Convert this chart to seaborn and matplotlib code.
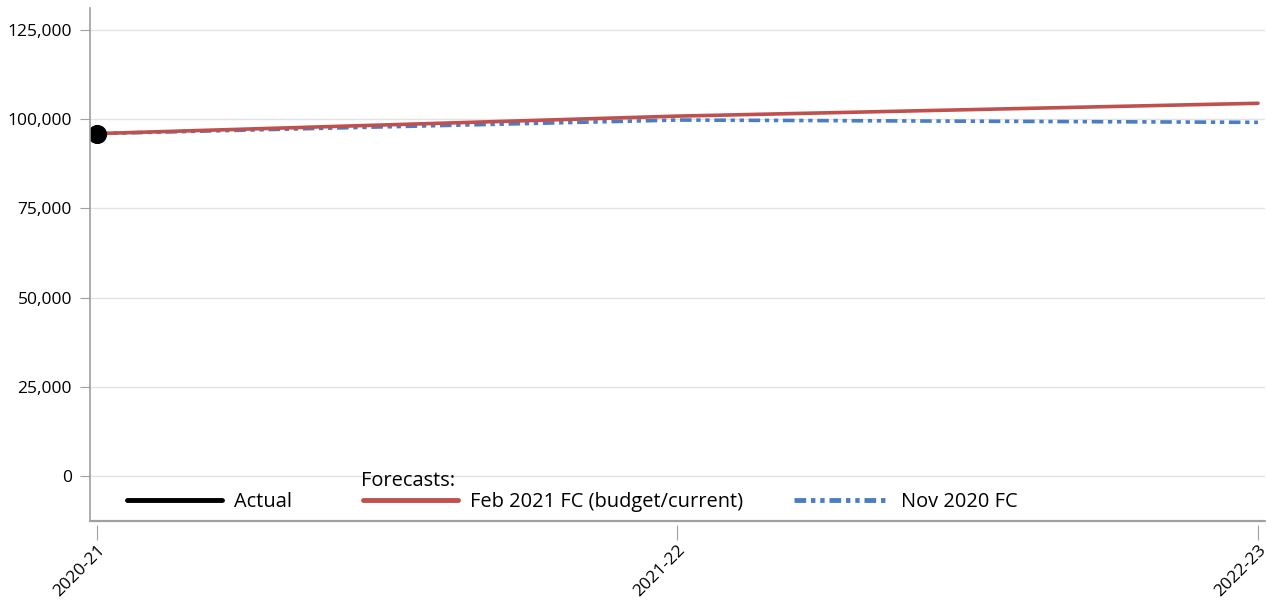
import matplotlib.pyplot as plt
import seaborn as sns
from matplotlib.lines import Line2D
from matplotlib.ticker import FuncFormatter

# data
years = ["2020-21", "2021-22", "2022-23"]
actual_years = ["2020-21"]
actual = [95800]
feb_2021_fc = [96000, 100900, 104500]
nov_2020_fc = [96000, 99800, 99150]

sns.set_style("white")
plt.rcParams['font.family'] = ['Open Sans', 'DejaVu Sans']
plt.rcParams['text.color'] = 'black'

red = "#C0504D"
blue = "#4A7EC2"
grey = "#a0a0a0"
dashdotdot = (0, (3.2, 1.3, 1.2, 1.3, 1.2, 1.3))

fig = plt.figure(figsize=(12.68, 6.02), dpi=100)
ax = fig.add_axes([0.071, 0.1346, 0.9266, 0.852])

sns.lineplot(x=years, y=nov_2020_fc, color=blue, linewidth=2.6, linestyle=dashdotdot, ax=ax)
sns.lineplot(x=years, y=feb_2021_fc, color=red, linewidth=2.6, ax=ax)
sns.lineplot(x=actual_years, y=actual, color="black", linewidth=2.6, marker="o",
             markersize=13, markeredgecolor="black", ax=ax)

ax.set_xlim(-0.012, 2.012)
ax.set_ylim(-12640, 131200)
ax.set_yticks([0, 25000, 50000, 75000, 100000, 125000])
ax.yaxis.set_major_formatter(FuncFormatter(lambda v, p: f"{int(v):,}"))
ax.grid(axis="y", color="#e3e3e3", linewidth=1)
ax.set_axisbelow(True)
ax.set_xlabel("")
ax.set_ylabel("")

for s in ["top", "right"]:
    ax.spines[s].set_visible(False)
ax.spines["left"].set_color(grey)
ax.spines["left"].set_linewidth(1.2)
# x ticks sit a little below the frame line
ax.spines["bottom"].set_position(("outward", 3))
ax.spines["bottom"].set_visible(False)
ax.axhline(-12640, color=grey, linewidth=1.6, clip_on=False)

ax.tick_params(axis="y", length=7, color=grey, labelsize=12.5, pad=6, left=True,
               labelcolor="black")
ax.tick_params(axis="x", length=11, color=grey, labelsize=12.5, pad=1, bottom=True,
               labelcolor="black")
for lab in ax.get_xticklabels():
    lab.set_rotation(45)
    lab.set_ha("right")
    lab.set_rotation_mode("anchor")

handles = [
    Line2D([], [], color="black", linewidth=3.5),
    Line2D([], [], color=red, linewidth=3.5),
    Line2D([], [], color=blue, linewidth=3.5, linestyle=(0, (2.4, 1, 0.9, 1, 0.9, 1))),
]
labels = ["Actual", "Feb 2021 FC (budget/current)", "Nov 2020 FC"]
leg_kw = dict(frameon=False, fontsize=14.4, loc="lower left", handlelength=4.75,
              handletextpad=0.6, labelcolor="black")
leg1 = ax.legend(handles[:2], labels[:2], ncol=2, bbox_to_anchor=(0.016, -0.018),
                 columnspacing=3.55, **leg_kw)
ax.add_artist(leg1)
ax.legend(handles[2:], labels[2:], bbox_to_anchor=(0.584, -0.018), **leg_kw)
ax.text(0.2306, 0.058, "Forecasts:", transform=ax.transAxes, fontsize=14.4,
        ha="left", va="bottom", color="black")

fig.savefig("out.png", dpi=100)
